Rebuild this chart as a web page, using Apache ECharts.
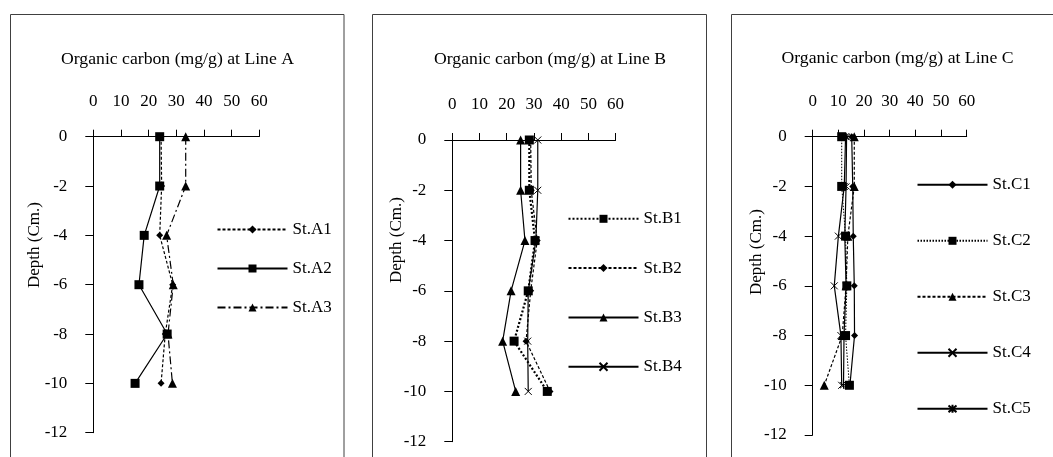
<!DOCTYPE html>
<html>
<head>
<meta charset="utf-8">
<script src="https://cdn.jsdelivr.net/npm/echarts@6/dist/echarts.min.js"></script>
<style>
  html, body { margin: 0; padding: 0; background: #fff; }
  #chart { width: 1053px; height: 457px; }
</style>
</head>
<body>
<div id="chart"></div>
<script>
// Sampling depths (cm) shared by every station
const depths = [0, -2, -4, -6, -8, -10];
const xTicks = { min: 0, max: 60, interval: 10 };
const yTicks = { min: -12, max: 0, interval: 2 };

// Organic carbon (mg/g) per station, top to bottom
const stA1 = [24.5, 24.7, 24.0, 28.7, 26.0, 24.5];
const stA2 = [24.0, 24.0, 18.4, 16.5, 26.7, 15.1];
const stA3 = [33.4, 33.4, 26.5, 28.9, 27.0, 28.6];

const stB1 = [28.3, 28.3, 30.4, 27.9, 22.7, 34.9];
const stB2 = [28.8, 29.0, 31.2, 28.8, 27.1, 35.9];
const stB3 = [25.1, 25.1, 26.7, 21.6, 18.5, 23.3];
const stB4 = [31.4, 31.4, 30.7, 27.9, 27.7, 27.9];

const stC1 = [15.2, 15.6, 15.8, 16.2, 16.3, 14.5];
const stC2 = [11.3, 11.3, 12.8, 13.3, 12.8, 14.3];
const stC3 = [16.2, 16.2, 13.7, 13.0, 11.5, 4.5];
const stC4 = [12.8, 12.3, 10.0, 8.4, 11.0, 11.3];
const stC5 = [13.2, 13.0, 12.5, 13.0, 12.2, 12.0];

const titles = ['Organic carbon (mg/g) at Line A', 'Organic carbon (mg/g) at Line B', 'Organic carbon (mg/g) at Line C'];
const depthName = 'Depth (Cm.)';

const FONT = '"Liberation Serif", "Times New Roman", serif';
const CROSS = 'path://M0,0L10,10M10,0L0,10';
const STAR = 'path://M0,0L10,10M10,0L0,10M5,-1L5,11';

function pairs(vals) { return vals.map((v, i) => [v, depths[i]]); }

function station(name, vals, grid, symbol, size, lineType, lineWidth, stroke) {
  return {
    name: name,
    type: 'line',
    xAxisIndex: grid, yAxisIndex: grid,
    data: pairs(vals),
    symbol: symbol,
    symbolSize: size,
    showSymbol: true,
    animation: false,
    lineStyle: { color: '#000', width: lineWidth || 1.2, type: lineType || 'solid' },
    itemStyle: { color: stroke ? 'none' : '#000', borderColor: '#000', borderWidth: stroke ? 1 : 0 },
    emphasis: { disabled: true }
  };
}

const grids = [
  { left: 93.3, top: 136.7, width: 166, height: 296 },
  { left: 452.3, top: 140, width: 163.3, height: 301.7 },
  { left: 812.7, top: 136.7, width: 154, height: 298.3 }
];

function xAxisFor(i) {
  return {
    gridIndex: i, type: 'value', position: 'top',
    min: xTicks.min, max: xTicks.max, interval: xTicks.interval,
    axisLine: { onZero: false, lineStyle: { color: '#000', width: 1 } },
    axisTick: { length: 7, lineStyle: { color: '#000' } },
    axisLabel: { color: '#000', fontFamily: FONT, fontSize: 17, margin: 27 },
    splitLine: { show: false }
  };
}
function yAxisFor(i) {
  return {
    gridIndex: i, type: 'value',
    min: yTicks.min, max: yTicks.max, interval: yTicks.interval,
    axisLine: { onZero: false, lineStyle: { color: '#000', width: 1 } },
    axisTick: { length: 8, lineStyle: { color: '#000' } },
    axisLabel: { color: '#000', fontFamily: FONT, fontSize: 17, margin: 26 },
    splitLine: { show: false }
  };
}

function legendFor(names, left, top, gap) {
  return {
    data: names, orient: 'vertical', left: left, top: top,
    itemWidth: 70, itemHeight: 10, itemGap: gap, padding: 0,
    selectedMode: false,
    textStyle: { color: '#000', fontFamily: FONT, fontSize: 17, lineHeight: 16 }
  };
}

function panelText(text, x, y, rotate, size) {
  return {
    type: 'text', x: x, y: y, rotation: rotate ? Math.PI / 2 : 0,
    style: { text: text, fill: '#000', font: (size || 17) + 'px ' + FONT, align: 'center', verticalAlign: 'middle' }
  };
}
function frame(x, w) {
  return {
    type: 'rect', shape: { x: x, y: 14.5, width: w, height: 500 },
    style: { fill: 'none', stroke: '#404040', lineWidth: 1 }, silent: true
  };
}

const option = {
  backgroundColor: '#fff',
  animation: false,
  grid: grids,
  xAxis: [xAxisFor(0), xAxisFor(1), xAxisFor(2)],
  yAxis: [yAxisFor(0), yAxisFor(1), yAxisFor(2)],
  legend: [
    legendFor(['St.A1', 'St.A2', 'St.A3'], 216.5, 221, 22),
    legendFor(['St.B1', 'St.B2', 'St.B3', 'St.B4'], 567.5, 210.3, 32.3),
    legendFor(['St.C1', 'St.C2', 'St.C3', 'St.C4', 'St.C5'], 916.5, 176.3, 39)
  ],
  graphic: [
    frame(10.5, 333.5),
    frame(372.5, 334),
    frame(731.5, 400),
    panelText(titles[0], 177.5, 59, false, 17.7),
    panelText(titles[1], 550, 59, false, 17.7),
    panelText(titles[2], 897.5, 58, false, 17.7),
    panelText(depthName, 35, 245, true),
    panelText(depthName, 397, 240, true),
    panelText(depthName, 757, 252, true)
  ],
  series: [
    station('St.A1', stA1, 0, 'diamond', 7, [3, 2]),
    station('St.A2', stA2, 0, 'rect', 9, 'solid'),
    station('St.A3', stA3, 0, 'triangle', 9, [8, 3, 2, 3]),

    station('St.B1', stB1, 1, 'rect', 9, [2, 2], 2.2),
    station('St.B2', stB2, 1, 'diamond', 7, [3, 2]),
    station('St.B3', stB3, 1, 'triangle', 9, 'solid'),
    station('St.B4', stB4, 1, CROSS, 7, 'solid', 1.2, true),

    station('St.C1', stC1, 2, 'diamond', 7, 'solid'),
    station('St.C2', stC2, 2, 'rect', 9, [1.5, 1.5], 1),
    station('St.C3', stC3, 2, 'triangle', 9, [3, 2]),
    station('St.C4', stC4, 2, CROSS, 7, 'solid', 1.2, true),
    station('St.C5', stC5, 2, STAR, 7, 'solid', 1.2, true)
  ]
};

const chart = echarts.init(document.getElementById('chart'), null, { renderer: 'canvas' });
chart.setOption(option);
</script>
</body>
</html>
